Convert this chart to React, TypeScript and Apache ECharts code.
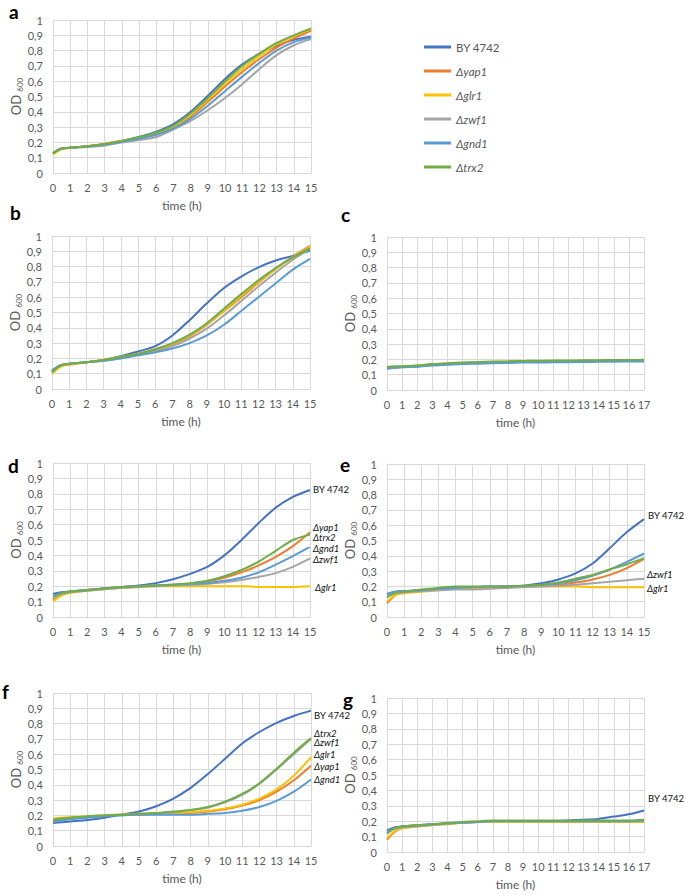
import React, { useEffect, useRef } from "react";
import * as echarts from "echarts";

const STRAINS = ["BY 4742", "Δyap1", "Δglr1", "Δzwf1", "Δgnd1", "Δtrx2"];
const COLORS = ["#4472C4", "#ED7D31", "#FFC000", "#A5A5A5", "#5B9BD5", "#70AD47"];

const TIME_15 = [0, 0.5, 1, 2, 3, 4, 5, 6, 7, 8, 9, 10, 11, 12, 13, 14, 15];
const TIME_17 = [0, 0.5, 1, 2, 3, 4, 5, 6, 7, 8, 9, 10, 11, 12, 13, 14, 15, 16, 17];

// Panel a
const A_BY = [0.13, 0.16, 0.165, 0.175, 0.19, 0.21, 0.235, 0.27, 0.32, 0.40, 0.505, 0.615, 0.71, 0.78, 0.83, 0.87, 0.89];
const A_YAP1 = [0.13, 0.16, 0.165, 0.175, 0.19, 0.21, 0.23, 0.255, 0.30, 0.37, 0.465, 0.565, 0.66, 0.745, 0.82, 0.88, 0.93];
const A_GLR1 = [0.12, 0.155, 0.165, 0.175, 0.19, 0.21, 0.23, 0.26, 0.305, 0.38, 0.48, 0.585, 0.68, 0.765, 0.84, 0.895, 0.94];
const A_ZWF1 = [0.13, 0.16, 0.165, 0.17, 0.18, 0.20, 0.215, 0.235, 0.285, 0.34, 0.41, 0.49, 0.58, 0.68, 0.77, 0.835, 0.875];
const A_GND1 = [0.13, 0.16, 0.165, 0.175, 0.185, 0.205, 0.225, 0.25, 0.29, 0.355, 0.44, 0.535, 0.63, 0.72, 0.80, 0.855, 0.885];
const A_TRX2 = [0.13, 0.16, 0.165, 0.175, 0.19, 0.21, 0.235, 0.265, 0.31, 0.39, 0.49, 0.60, 0.70, 0.78, 0.85, 0.90, 0.945];

// Panel b
const B_BY = [0.12, 0.155, 0.165, 0.175, 0.19, 0.215, 0.245, 0.28, 0.35, 0.45, 0.56, 0.66, 0.735, 0.795, 0.84, 0.87, 0.905];
const B_YAP1 = [0.11, 0.15, 0.16, 0.175, 0.19, 0.21, 0.23, 0.255, 0.29, 0.345, 0.42, 0.51, 0.60, 0.695, 0.785, 0.865, 0.935];
const B_GLR1 = [0.10, 0.145, 0.16, 0.175, 0.19, 0.21, 0.23, 0.26, 0.295, 0.35, 0.425, 0.515, 0.61, 0.70, 0.785, 0.86, 0.93];
const B_ZWF1 = [0.11, 0.155, 0.165, 0.175, 0.185, 0.205, 0.225, 0.245, 0.28, 0.33, 0.395, 0.48, 0.575, 0.67, 0.76, 0.845, 0.915];
const B_GND1 = [0.12, 0.155, 0.165, 0.175, 0.185, 0.20, 0.22, 0.24, 0.265, 0.30, 0.35, 0.42, 0.51, 0.60, 0.69, 0.78, 0.85];
const B_TRX2 = [0.11, 0.155, 0.165, 0.175, 0.19, 0.21, 0.23, 0.26, 0.30, 0.355, 0.43, 0.525, 0.62, 0.71, 0.79, 0.86, 0.92];

// Panel c
const C_BY = [0.14, 0.145, 0.15, 0.155, 0.165, 0.17, 0.175, 0.177, 0.18, 0.182, 0.184, 0.185, 0.186, 0.187, 0.188, 0.189, 0.19, 0.19, 0.19];
const C_YAP1 = [0.145, 0.148, 0.152, 0.158, 0.167, 0.172, 0.176, 0.179, 0.182, 0.184, 0.186, 0.187, 0.188, 0.189, 0.19, 0.191, 0.192, 0.192, 0.193];
const C_GLR1 = [0.15, 0.15, 0.153, 0.158, 0.168, 0.173, 0.177, 0.18, 0.183, 0.185, 0.187, 0.188, 0.189, 0.19, 0.191, 0.192, 0.193, 0.193, 0.194];
const C_ZWF1 = [0.145, 0.147, 0.15, 0.155, 0.165, 0.17, 0.174, 0.177, 0.18, 0.182, 0.184, 0.185, 0.186, 0.187, 0.188, 0.189, 0.19, 0.19, 0.191];
const C_GND1 = [0.14, 0.145, 0.148, 0.152, 0.16, 0.165, 0.17, 0.172, 0.175, 0.177, 0.179, 0.18, 0.181, 0.182, 0.183, 0.184, 0.185, 0.186, 0.186];
const C_TRX2 = [0.15, 0.155, 0.155, 0.16, 0.17, 0.175, 0.18, 0.183, 0.186, 0.188, 0.19, 0.191, 0.192, 0.193, 0.194, 0.195, 0.196, 0.196, 0.197];

// Panel d
const D_BY = [0.15, 0.16, 0.165, 0.175, 0.185, 0.195, 0.205, 0.22, 0.245, 0.28, 0.325, 0.40, 0.50, 0.61, 0.71, 0.78, 0.825];
const D_YAP1 = [0.11, 0.15, 0.16, 0.175, 0.185, 0.195, 0.20, 0.205, 0.21, 0.215, 0.23, 0.255, 0.29, 0.335, 0.39, 0.46, 0.55];
const D_GLR1 = [0.10, 0.14, 0.155, 0.17, 0.18, 0.19, 0.195, 0.20, 0.20, 0.20, 0.20, 0.20, 0.20, 0.195, 0.195, 0.195, 0.20];
const D_ZWF1 = [0.12, 0.15, 0.16, 0.17, 0.18, 0.19, 0.195, 0.20, 0.205, 0.21, 0.215, 0.225, 0.24, 0.26, 0.285, 0.325, 0.38];
const D_GND1 = [0.14, 0.155, 0.165, 0.175, 0.185, 0.195, 0.20, 0.205, 0.21, 0.215, 0.22, 0.235, 0.255, 0.29, 0.34, 0.395, 0.455];
const D_TRX2 = [0.13, 0.155, 0.165, 0.175, 0.185, 0.195, 0.20, 0.205, 0.21, 0.22, 0.235, 0.265, 0.305, 0.36, 0.43, 0.50, 0.535];

// Panel e
const E_BY = [0.15, 0.165, 0.17, 0.175, 0.185, 0.19, 0.195, 0.20, 0.20, 0.205, 0.22, 0.245, 0.285, 0.35, 0.45, 0.555, 0.64];
const E_YAP1 = [0.09, 0.145, 0.16, 0.17, 0.18, 0.185, 0.19, 0.195, 0.20, 0.20, 0.205, 0.21, 0.225, 0.245, 0.275, 0.32, 0.38];
const E_GLR1 = [0.10, 0.145, 0.155, 0.165, 0.175, 0.185, 0.19, 0.195, 0.195, 0.20, 0.20, 0.20, 0.20, 0.195, 0.195, 0.195, 0.195];
const E_ZWF1 = [0.13, 0.155, 0.16, 0.17, 0.175, 0.18, 0.18, 0.185, 0.19, 0.195, 0.20, 0.205, 0.21, 0.22, 0.23, 0.24, 0.25];
const E_GND1 = [0.15, 0.165, 0.17, 0.175, 0.185, 0.19, 0.195, 0.20, 0.20, 0.205, 0.21, 0.22, 0.24, 0.27, 0.31, 0.36, 0.415];
const E_TRX2 = [0.13, 0.16, 0.165, 0.18, 0.19, 0.20, 0.20, 0.20, 0.20, 0.205, 0.21, 0.225, 0.25, 0.275, 0.31, 0.345, 0.385];

// Panel f
const F_BY = [0.15, 0.155, 0.16, 0.17, 0.185, 0.205, 0.225, 0.26, 0.31, 0.38, 0.47, 0.57, 0.67, 0.745, 0.805, 0.85, 0.885];
const F_YAP1 = [0.16, 0.17, 0.18, 0.19, 0.20, 0.205, 0.205, 0.21, 0.21, 0.215, 0.225, 0.24, 0.265, 0.30, 0.355, 0.43, 0.525];
const F_GLR1 = [0.18, 0.185, 0.19, 0.195, 0.20, 0.205, 0.21, 0.21, 0.215, 0.22, 0.23, 0.245, 0.27, 0.31, 0.37, 0.46, 0.58];
const F_ZWF1 = [0.17, 0.175, 0.18, 0.19, 0.20, 0.205, 0.21, 0.215, 0.22, 0.235, 0.25, 0.285, 0.335, 0.405, 0.50, 0.60, 0.70];
const F_GND1 = [0.16, 0.165, 0.175, 0.185, 0.195, 0.20, 0.205, 0.205, 0.205, 0.205, 0.21, 0.215, 0.23, 0.255, 0.295, 0.355, 0.435];
const F_TRX2 = [0.17, 0.18, 0.185, 0.195, 0.20, 0.205, 0.21, 0.215, 0.225, 0.235, 0.255, 0.29, 0.34, 0.41, 0.505, 0.61, 0.705];

// Panel g
const G_BY = [0.14, 0.16, 0.165, 0.175, 0.18, 0.185, 0.19, 0.195, 0.195, 0.20, 0.20, 0.20, 0.20, 0.205, 0.21, 0.215, 0.23, 0.245, 0.27];
const G_YAP1 = [0.08, 0.13, 0.155, 0.165, 0.175, 0.185, 0.19, 0.195, 0.195, 0.195, 0.195, 0.195, 0.195, 0.195, 0.195, 0.195, 0.195, 0.195, 0.195];
const G_GLR1 = [0.09, 0.135, 0.155, 0.165, 0.175, 0.18, 0.19, 0.195, 0.195, 0.195, 0.195, 0.195, 0.195, 0.195, 0.195, 0.195, 0.195, 0.195, 0.195];
const G_ZWF1 = [0.12, 0.15, 0.16, 0.17, 0.175, 0.185, 0.19, 0.195, 0.20, 0.20, 0.20, 0.20, 0.20, 0.20, 0.20, 0.20, 0.20, 0.20, 0.20];
const G_GND1 = [0.13, 0.155, 0.165, 0.17, 0.18, 0.185, 0.19, 0.195, 0.20, 0.20, 0.20, 0.20, 0.20, 0.20, 0.20, 0.20, 0.20, 0.20, 0.205];
const G_TRX2 = [0.12, 0.155, 0.165, 0.175, 0.18, 0.19, 0.195, 0.20, 0.205, 0.205, 0.205, 0.205, 0.205, 0.205, 0.205, 0.205, 0.205, 0.205, 0.21];

const FONT = "Lato, 'Open Sans', sans-serif";
const AXIS_GRAY = "#595959";
const GRID_GRAY = "#d9d9d9";

type Panel = {
  letter: string;
  time: number[];
  xMax: number;
  values: number[][];
  grid: { left: number; top: number; width: number; height: number };
  letterPos: [number, number];
  // end labels: series index -> [dy, distance]
  labels: Record<number, [number, number]>;
};

const PANELS: Panel[] = [
  {
    letter: "a", time: TIME_15, xMax: 15,
    values: [A_BY, A_YAP1, A_GLR1, A_ZWF1, A_GND1, A_TRX2],
    grid: { left: 53, top: 20, width: 258, height: 153 },
    letterPos: [9, 2], labels: {},
  },
  {
    letter: "b", time: TIME_15, xMax: 15,
    values: [B_BY, B_YAP1, B_GLR1, B_ZWF1, B_GND1, B_TRX2],
    grid: { left: 52, top: 236, width: 258, height: 153 },
    letterPos: [10, 203], labels: {},
  },
  {
    letter: "c", time: TIME_17, xMax: 17,
    values: [C_BY, C_YAP1, C_GLR1, C_ZWF1, C_GND1, C_TRX2],
    grid: { left: 387, top: 237, width: 257, height: 153 },
    letterPos: [341, 205], labels: {},
  },
  {
    letter: "d", time: TIME_15, xMax: 15,
    values: [D_BY, D_YAP1, D_GLR1, D_ZWF1, D_GND1, D_TRX2],
    grid: { left: 53, top: 463, width: 257, height: 154 },
    letterPos: [8, 456],
    labels: { 0: [0, 3], 1: [-5, 3], 5: [3, 3], 4: [2, 3], 3: [1, 3], 2: [1, 5] },
  },
  {
    letter: "e", time: TIME_15, xMax: 15,
    values: [E_BY, E_YAP1, E_GLR1, E_ZWF1, E_GND1, E_TRX2],
    grid: { left: 387, top: 464, width: 257, height: 153 },
    letterPos: [340, 455],
    labels: { 0: [-4, 4], 3: [-4, 3], 2: [1, 3] },
  },
  {
    letter: "f", time: TIME_15, xMax: 15,
    values: [F_BY, F_YAP1, F_GLR1, F_ZWF1, F_GND1, F_TRX2],
    grid: { left: 53, top: 693, width: 258, height: 153 },
    letterPos: [2, 682],
    labels: { 0: [5, 3], 5: [-5, 3], 3: [4, 3], 2: [-3, 3], 1: [1, 3], 4: [0, 3] },
  },
  {
    letter: "g", time: TIME_17, xMax: 17,
    values: [G_BY, G_YAP1, G_GLR1, G_ZWF1, G_GND1, G_TRX2],
    grid: { left: 387, top: 698, width: 257, height: 154 },
    letterPos: [343, 690],
    labels: { 0: [-12, 4] },
  },
];

const fmtY = (v: number) => String(Math.round(v * 10) / 10).replace(".", ",");
const fmtName = (name: string) => (name.startsWith("Δ") ? `{i|${name}}` : `{n|${name}}`);

function buildOption() {
  const grids: any[] = [];
  const xAxes: any[] = [];
  const yAxes: any[] = [];
  const series: any[] = [];
  const graphics: any[] = [];

  PANELS.forEach((p, pi) => {
    grids.push({ ...p.grid, containLabel: false });
    xAxes.push({
      type: "value", gridIndex: pi, min: 0, max: p.xMax, interval: 1,
      name: "time (h)", nameLocation: "middle", nameGap: 26,
      nameTextStyle: { color: AXIS_GRAY, fontFamily: FONT, fontSize: 12 },
      axisLine: { show: true, lineStyle: { color: GRID_GRAY, width: 1 } },
      axisTick: { show: false },
      axisLabel: { color: AXIS_GRAY, fontFamily: FONT, fontSize: 11, margin: 9 },
      splitLine: { show: true, lineStyle: { color: GRID_GRAY, width: 1 } },
    });
    yAxes.push({
      type: "value", gridIndex: pi, min: 0, max: 1, interval: 0.1,
      name: "{a|OD }{s|600}", nameLocation: "middle", nameGap: 28,
      nameTextStyle: {
        color: AXIS_GRAY, fontFamily: FONT,
        rich: {
          a: { fontSize: 13, color: AXIS_GRAY, fontFamily: FONT, lineHeight: 16 },
          s: { fontSize: 8, color: AXIS_GRAY, fontFamily: FONT, verticalAlign: "bottom", lineHeight: 16 },
        },
      },
      axisLine: { show: true, lineStyle: { color: GRID_GRAY, width: 1 } },
      axisTick: { show: false },
      axisLabel: { color: AXIS_GRAY, fontFamily: FONT, fontSize: 11, margin: 10, formatter: fmtY },
      splitLine: { show: true, lineStyle: { color: GRID_GRAY, width: 1 } },
    });
    p.values.forEach((vals, si) => {
      const lab = p.labels[si];
      series.push({
        type: "line", name: STRAINS[si], xAxisIndex: pi, yAxisIndex: pi,
        data: vals.map((v, k) => [p.time[k], v]),
        showSymbol: false, smooth: 0.3,
        lineStyle: { color: COLORS[si], width: 2 },
        itemStyle: { color: COLORS[si] },
        emphasis: { disabled: true },
        endLabel: lab
          ? {
              show: true, distance: lab[1], offset: [0, lab[0]],
              formatter: () => fmtName(STRAINS[si]),
              rich: {
                n: { fontSize: 9.5, color: "#111", fontFamily: FONT, lineHeight: 10 },
                i: { fontSize: 9.5, color: "#111", fontFamily: FONT, fontStyle: "italic", lineHeight: 10 },
              },
            }
          : { show: false },
      });
    });
    graphics.push({
      type: "text", left: p.letterPos[0], top: p.letterPos[1],
      style: { text: p.letter, font: `bold 19px ${FONT}`, fill: "#000" },
    });
  });

  return {
    animation: false,
    backgroundColor: "#fff",
    grid: grids,
    xAxis: xAxes,
    yAxis: yAxes,
    series,
    graphic: graphics,
    legend: {
      show: true, orient: "vertical", left: 419, top: 35,
      itemWidth: 27, itemHeight: 3, itemGap: 10, icon: "rect",
      data: STRAINS,
      selectedMode: false,
      formatter: fmtName,
      textStyle: {
        color: AXIS_GRAY, fontFamily: FONT, fontSize: 11.5, lineHeight: 14,
        rich: {
          n: { fontSize: 11.5, color: AXIS_GRAY, fontFamily: FONT, lineHeight: 14 },
          i: { fontSize: 11.5, color: AXIS_GRAY, fontFamily: FONT, fontStyle: "italic", lineHeight: 14 },
        },
      },
    },
  };
}

export default function App() {
  const ref = useRef<HTMLDivElement>(null);
  useEffect(() => {
    if (!ref.current) return;
    const chart = echarts.init(ref.current, undefined, { renderer: "svg" });
    chart.setOption(buildOption() as any);
    return () => chart.dispose();
  }, []);
  return (
    <div
      ref={ref}
      style={{ position: "absolute", left: 0, top: 0, width: 685, height: 895, background: "#fff" }}
    />
  );
}
